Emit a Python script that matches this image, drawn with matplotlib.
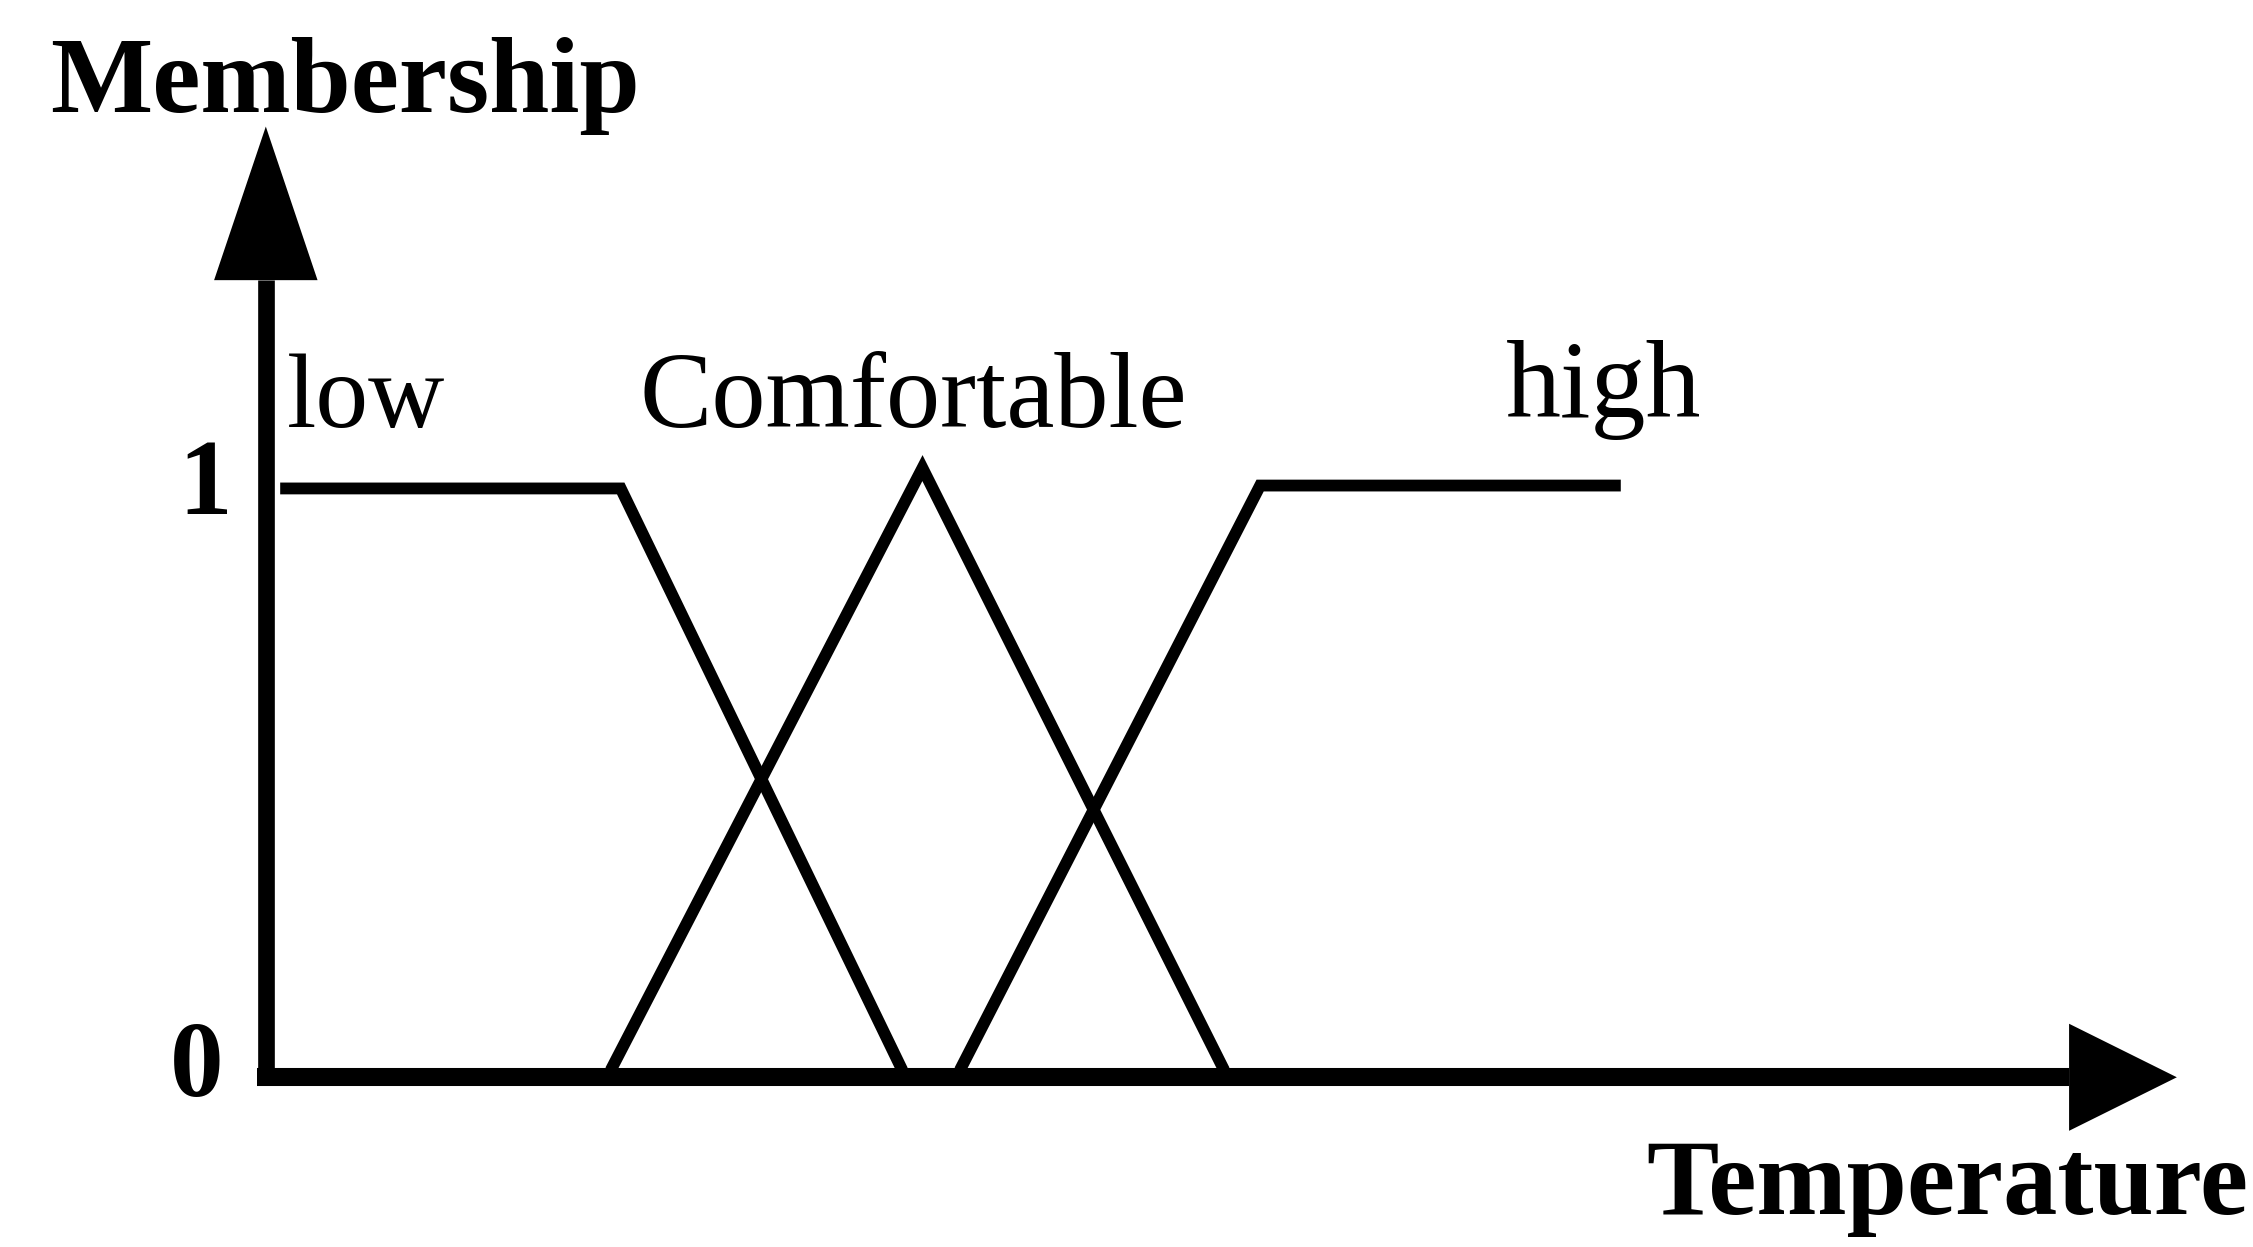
import matplotlib.pyplot as plt

# membership functions, temperature in arbitrary units
low_x = [1.0, 24.7, 44.3]
low_y = [1.0, 1.0, 0.0]
comf_x = [24.0, 45.7, 66.7]
comf_y = [0.0, 1.035, 0.0]
high_x = [48.3, 69.2, 94.3]
high_y = [0.0, 1.005, 1.005]

set_names = ['low', 'Comfortable', 'high']
tick_vals = [0, 1]
tick_labels = ['0', '1']

plt.rcParams['font.family'] = ['Liberation Serif', 'DejaVu Serif']

fig = plt.figure(figsize=(22.53, 12.47), dpi=100)
ax = fig.add_axes([0, 0, 1, 1])
ax.set_xlim(-18.5, 138.3)
ax.set_ylim(-0.3037, 1.8395)
ax.axis('off')

# axes with arrow heads
x_end, x_tip, x_half, x_axis_y = 125.5, 133.0, 0.092, -0.012
y_end, y_tip, y_half = 1.358, 1.622, 3.6
ax.plot([-0.6, x_end], [x_axis_y, x_axis_y], color='black', lw=13,
        solid_capstyle='butt')
ax.plot([0, 0], [x_axis_y, y_end], color='black', lw=12,
        solid_capstyle='butt')
ax.fill([x_end, x_tip, x_end], [x_axis_y - x_half, x_axis_y, x_axis_y + x_half],
        color='black', lw=0)
ax.fill([-y_half, 0, y_half], [y_end, y_tip, y_end], color='black', lw=0)

for xs, ys in [(low_x, low_y), (comf_x, comf_y), (high_x, high_y)]:
    ax.plot(xs, ys, color='black', lw=8.5, solid_joinstyle='miter',
            solid_capstyle='butt')

# set names
ax.text(1.5, 1.106, set_names[0], fontsize=76, ha='left', va='baseline')
ax.text(26.0, 1.106, set_names[1], fontsize=78, ha='left', va='baseline')
ax.text(86.3, 1.123, set_names[2], fontsize=79, ha='left', va='baseline')

# tick labels
ax.text(-4.2, tick_vals[1], tick_labels[1], fontsize=77, fontweight='bold',
        ha='center', va='center')
ax.text(-4.8, tick_vals[0], tick_labels[0], fontsize=77, fontweight='bold',
        ha='center', va='center')

ax.text(-15.0, 1.647, 'Membership', fontsize=78, fontweight='bold',
        ha='left', va='baseline')
ax.text(138.0, -0.247, 'Temperature', fontsize=78, fontweight='bold',
        ha='right', va='baseline')

fig.savefig('out.png', dpi=100)
